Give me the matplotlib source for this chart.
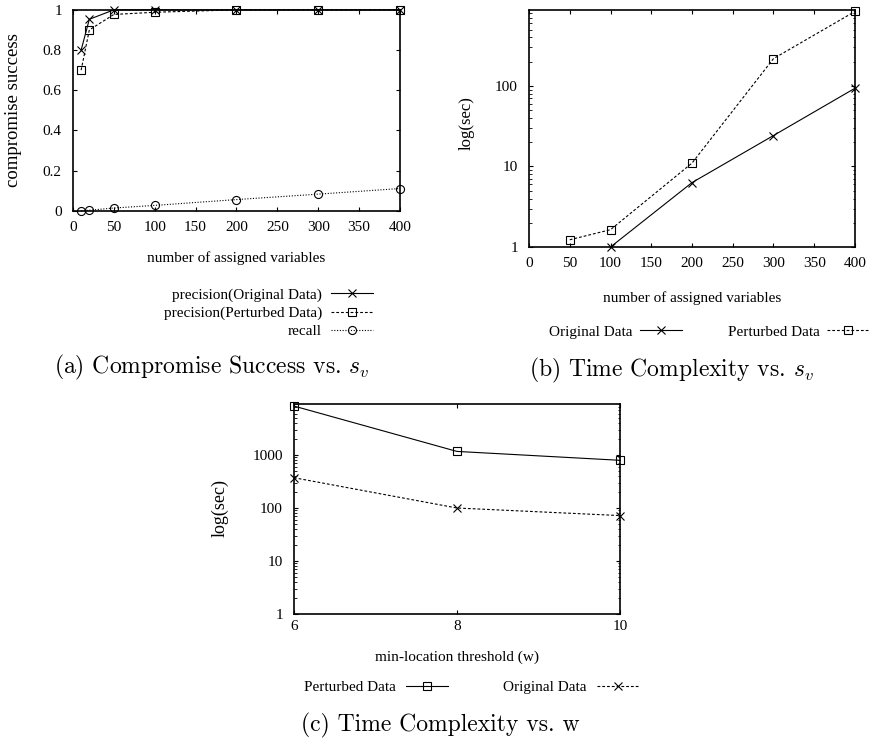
import numpy as np
import matplotlib
matplotlib.use("Agg")
import matplotlib.pyplot as plt
from matplotlib.ticker import LogLocator, NullFormatter

# Data
# (a) compromise success vs number of assigned variables
sv_a = [10, 20, 50, 100, 200, 300, 400]
prec_orig = [0.80, 0.953, 1.0, 1.0, 1.0, 1.0, 1.0]
prec_pert = [0.70, 0.90, 0.977, 0.988, 1.0, 1.0, 1.0]
recall = [0.0, 0.003, 0.014, 0.027, 0.056, 0.083, 0.111]

# (b) time complexity vs number of assigned variables
sv_b_orig = [100, 200, 300, 400]
time_b_orig = [1.0, 6.3, 24.2, 93.5]
sv_b_pert = [50, 100, 200, 300, 400]
time_b_pert = [1.23, 1.64, 11.0, 218, 840]

# (c) time complexity vs min-location threshold
w_c = [6, 8, 10]
time_c_pert = [8400, 1170, 795]
time_c_orig = [373, 100, 72]

X_TICKS_SV = [0, 50, 100, 150, 200, 250, 300, 350, 400]
Y_TICKS_A = [0, 0.2, 0.4, 0.6, 0.8, 1]
Y_TICKLABELS_A = ["0", "0.2", "0.4", "0.6", "0.8", "1"]

# Style
plt.rcParams.update({
    "font.family": "Liberation Serif",
    "font.size": 11,
    "mathtext.fontset": "cm",
    "axes.linewidth": 1.2,
    "xtick.direction": "in", "ytick.direction": "in",
    "xtick.top": True, "ytick.right": True,
    "xtick.major.size": 3, "ytick.major.size": 3,
    "xtick.minor.size": 1.8, "ytick.minor.size": 1.8,
    "xtick.major.pad": 7.5, "ytick.major.pad": 8,
    "xtick.major.width": 0.8, "ytick.major.width": 0.8,
    "ytick.minor.width": 0.6,
    "legend.frameon": False,
    "legend.fontsize": 11,
})

LW = 0.8
MS = 5.4
MSX = 6.0
DASH = (0, (2.5, 1.8))
DOT = (0, (1, 1.5))
CAP_FONT = dict(family="cmr10", fontsize=17, ha="center", va="center")

fig = plt.figure(figsize=(8.77, 7.40), dpi=100)

# --- (a) -----------------------------------------------------------------
ax_a = fig.add_axes([0.0832, 0.7151, 0.3729, 0.2716])
ax_a.plot(sv_a, prec_orig, "-", marker="x", color="k", lw=LW, ms=MSX,
          mew=LW, label="precision(Original Data)", clip_on=False)
ax_a.plot(sv_a, prec_pert, ls=DASH, marker="s", color="k", lw=LW, ms=MS,
          mfc="none", mew=LW, label="precision(Perturbed Data)", clip_on=False)
ax_a.plot(sv_a, recall, ls=DOT, marker="o", color="k", lw=LW, ms=MS + 0.4,
          mfc="none", mew=LW, label="recall", clip_on=False)
ax_a.set_xlim(0, 400)
ax_a.set_ylim(0, 1)
ax_a.set_xticks(X_TICKS_SV)
ax_a.set_yticks(Y_TICKS_A)
ax_a.set_yticklabels(Y_TICKLABELS_A)
ax_a.set_xlabel("number of assigned variables", va="center")
ax_a.xaxis.set_label_coords(0.5, -0.234)
ax_a.set_ylabel("compromise success", fontsize=13.5, va="center")
ax_a.yaxis.set_label_coords(-0.183, 0.5)

fig.legend(*ax_a.get_legend_handles_labels(), loc="center right",
           bbox_to_anchor=(0.4253, 0.577), markerfirst=False,
           handlelength=2.75, handletextpad=0.6, labelspacing=0.28,
           borderpad=0, borderaxespad=0)
fig.text(0.2417, 0.504, "(a) Compromise Success vs. $s_v$", **CAP_FONT)

# --- (b) -----------------------------------------------------------------
ax_b = fig.add_axes([0.6032, 0.6662, 0.3717, 0.3203])
ax_b.plot(sv_b_orig, time_b_orig, "-", marker="x", color="k", lw=LW,
          ms=MSX, mew=LW, label="Original Data", clip_on=False)
ax_b.plot(sv_b_pert, time_b_pert, ls=DASH, marker="s", color="k", lw=LW,
          ms=MS, mfc="none", mew=LW, label="Perturbed Data", clip_on=False)
ax_b.set_yscale("log")
ax_b.set_xlim(0, 400)
ax_b.set_ylim(1, 875)
ax_b.set_xticks(X_TICKS_SV)
ax_b.set_yticks([1, 10, 100])
ax_b.set_yticklabels(["1", "10", "100"])
ax_b.yaxis.set_minor_locator(LogLocator(base=10, subs=np.arange(2, 10)))
ax_b.yaxis.set_minor_formatter(NullFormatter())
ax_b.set_xlabel("number of assigned variables", va="center")
ax_b.xaxis.set_label_coords(0.5015, -0.215)
ax_b.set_ylabel("log(sec)", fontsize=12, va="center")
ax_b.yaxis.set_label_coords(-0.19, 0.523)

fig.legend(*ax_b.get_legend_handles_labels(), loc="center",
           bbox_to_anchor=(0.8084, 0.5514), ncol=2, markerfirst=False,
           handlelength=2.75, handletextpad=0.5, columnspacing=3.0,
           borderpad=0, borderaxespad=0)
fig.text(0.7657, 0.500, "(b) Time Complexity vs. $s_v$", **CAP_FONT)

# --- (c) -----------------------------------------------------------------
ax_c = fig.add_axes([0.3352, 0.1703, 0.3717, 0.2838])
ax_c.plot(w_c, time_c_pert, "-", marker="s", color="k", lw=LW, ms=MS,
          mfc="none", mew=LW, label="Perturbed Data", clip_on=False)
ax_c.plot(w_c, time_c_orig, ls=DASH, marker="x", color="k", lw=LW,
          ms=MSX, mew=LW, label="Original Data", clip_on=False)
ax_c.set_yscale("log")
ax_c.set_xlim(6, 10)
ax_c.set_ylim(1, 9200)
ax_c.set_xticks(w_c)
ax_c.set_yticks([1, 10, 100, 1000])
ax_c.set_yticklabels(["1", "10", "100", "1000"])
ax_c.yaxis.set_minor_locator(LogLocator(base=10, subs=np.arange(2, 10)))
ax_c.yaxis.set_minor_formatter(NullFormatter())
ax_c.tick_params(axis="x", pad=4)
ax_c.set_xlabel("min-location threshold (w)", va="center")
ax_c.xaxis.set_label_coords(0.5, -0.205)
ax_c.set_ylabel("log(sec)", fontsize=13, va="center")
ax_c.yaxis.set_label_coords(-0.227, 0.505)

fig.legend(*ax_c.get_legend_handles_labels(), loc="center",
           bbox_to_anchor=(0.5376, 0.0716), ncol=2, markerfirst=False,
           handlelength=2.75, handletextpad=0.7, columnspacing=3.6,
           borderpad=0, borderaxespad=0)
fig.text(0.5017, 0.0203, "(c) Time Complexity vs. w", **CAP_FONT)

fig.savefig("out.png", dpi=100)
plt.close(fig)
